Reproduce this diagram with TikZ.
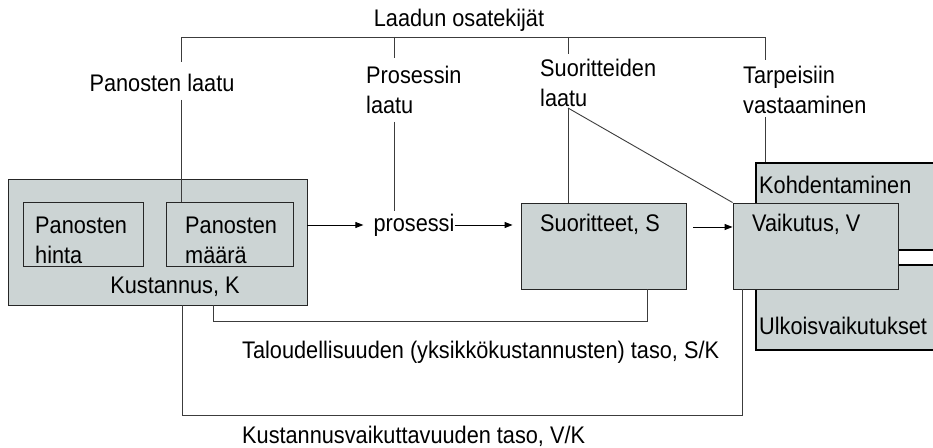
\documentclass[tikz,border=0pt]{standalone}
\usepackage{fontspec}
\setmainfont[FakeStretch=0.905]{Liberation Sans}
\usetikzlibrary{arrows.meta}
\definecolor{boxgray}{RGB}{204,212,212}
\definecolor{linegray}{RGB}{60,60,60}
\begin{document}
\begin{tikzpicture}[x=1bp,y=-1bp,
  every node/.style={font=\fontsize{24bp}{30bp}\selectfont, inner sep=0pt},
  graybox/.style={draw=black!85, line width=0.9bp, fill=boxgray},
  thickbox/.style={draw=black, line width=2.6bp, fill=boxgray},
  conn/.style={draw=linegray, line width=0.9bp},
  arr/.style={draw=black, line width=0.9bp, -{Triangle[length=8bp,width=6bp]}},
  lbl/.style={align=left}
]
\useasboundingbox (0,0) rectangle (933,448);
\fill[white] (0,0) rectangle (933,448);
\clip (0,0) rectangle (933,448);

% right-hand boxes (behind Vaikutus)
\node[thickbox, minimum width=204bp, minimum height=87bp] (kohd) at (858,206.5) {};
\node[thickbox, minimum width=204bp, minimum height=85bp] (ulko) at (858,307.5) {};
\node[anchor=west] (kohdt) at (759,185) {Kohdentaminen};
\node[anchor=west] (ulkot) at (759,326) {Ulkoisvaikutukset};

% cost box
\node[graybox, minimum width=299bp, minimum height=126bp] (K) at (157.5,242) {};
\node[graybox, minimum width=120bp, minimum height=64bp] (hinta) at (83,234) {};
\node[graybox, minimum width=127bp, minimum height=64bp] (maara) at (229.5,234) {};
\node[lbl, anchor=west] (hintat) at (35,240) {Panosten\\hinta};
\node[lbl, anchor=west] (maarat) at (185,240) {Panosten\\määrä};
\node (Kt) at (175,287) {Kustannus, K};

% process, outputs, effect
\node (pr) at (414,225) {prosessi};
\node[graybox, minimum width=165bp, minimum height=86bp] (S) at (603.5,246) {};
\node (St) at (600,224) {Suoritteet, S};
\node[graybox, minimum width=165bp, minimum height=86bp] (V) at (815.5,246) {};
\node[anchor=west] (Vt) at (752,224) {Vaikutus, V};

% quality labels
\node (laadun) at (459,20) {Laadun osatekijät};
\node (plaatu) at (162,83) {Panosten laatu};
\node[lbl, anchor=west] (prlaatu) at (366,89.5) {Prosessin\\laatu};
\node[lbl, anchor=west] (slaatu) at (540,83) {Suoritteiden\\laatu};
\node[lbl, anchor=west] (tarp) at (743,90) {Tarpeisiin\\vastaaminen};

% bottom labels
\node[anchor=west] (skt) at (242,352) {Taloudellisuuden (yksikkökustannusten) taso, S/K};
\node[anchor=west] (vkt) at (242,436) {Kustannusvaikuttavuuden taso, V/K};

% quality tree
\coordinate (q1) at (181,37);
\coordinate (q2) at (394,37);
\coordinate (q3) at (568,37);
\coordinate (q4) at (765,37);
\coordinate (q1b) at (181,100);
\coordinate (q2b) at (394,122);
\coordinate (q3b) at (568,108);
\coordinate (q4b) at (765,117);
\draw[conn] (181,62) -- (q1) -- (q4) -- (765,60);
\draw[conn] (q2) -- (394,58);
\draw[conn] (q3) -- (568,54);
\draw[conn] (q1b) -- (q1b |- maara.north);
\draw[conn] (q2b) -- (394,211);
\draw[conn] (q3b) -- (q3b |- S.north);
\draw[conn] (q3b) -- (V.north west);
\draw[conn] (q4b) -- (q4b |- kohd.north);

% flow arrows
\draw[arr] (K.east |- pr.west) -- ([xshift=-10bp]pr.west);
\draw[arr] (pr.east) -- ([xshift=-8bp]S.west |- pr.east);
\coordinate (sv) at (693,227);
\draw[arr] (sv) -- (sv -| V.west);

% ratio brackets
\draw[conn] ([xshift=43.5bp]S.south) -- ++(0,32) -| ([xshift=55.5bp]K.south);
\draw[conn] ([xshift=-73.5bp]V.south) -- ++(0,126) -| ([xshift=24.5bp]K.south);
\end{tikzpicture}
\end{document}
